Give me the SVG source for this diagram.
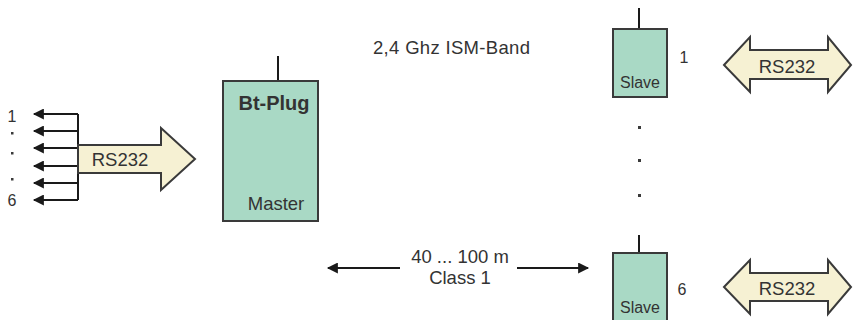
<svg xmlns="http://www.w3.org/2000/svg" width="853" height="320" viewBox="0 0 853 320">
<defs>
<style>
.t{font-family:"Liberation Sans",Arial,sans-serif;fill:#333333}
.box{fill:#a9d9c5;stroke:#3a3a3a;stroke-width:2}
.arr{fill:#f6f1d3;stroke:#3a3a3a;stroke-width:2;stroke-linejoin:miter}
.ln{stroke:#1a1a1a;stroke-width:2;fill:none}
</style>
<marker id="ah" viewBox="0 0 10 10" refX="9" refY="5" markerWidth="6" markerHeight="5.5" orient="auto-start-reverse" markerUnits="strokeWidth">
<path d="M0,0 L10,5 L0,10 z" fill="#1a1a1a"/>
</marker>
</defs>
<rect width="853" height="320" fill="#ffffff"/>

<g id="connectors">
<path class="ln" d="M78,114 V200"/>
<path class="ln" d="M78,114 H34" marker-end="url(#ah)"/>
<path class="ln" d="M78,131 H34" marker-end="url(#ah)"/>
<path class="ln" d="M78,148 H34" marker-end="url(#ah)"/>
<path class="ln" d="M78,166 H34" marker-end="url(#ah)"/>
<path class="ln" d="M78,183 H34" marker-end="url(#ah)"/>
<path class="ln" d="M78,200 H34" marker-end="url(#ah)"/>
<path class="ln" d="M400,268 H328" marker-end="url(#ah)"/>
<path class="ln" d="M517,268 H588" marker-end="url(#ah)"/>
</g>

<g id="ports-left">
<text class="t" x="12" y="122" font-size="16" text-anchor="middle">1</text>
<rect x="11" y="132" width="2.5" height="2.5" fill="#3a3a3a"/>
<rect x="11" y="152" width="2.5" height="2.5" fill="#3a3a3a"/>
<rect x="11" y="178" width="2.5" height="2.5" fill="#3a3a3a"/>
<text class="t" x="12" y="206" font-size="16" text-anchor="middle">6</text>
</g>

<g id="rs232-left">
<path class="arr" d="M78,145 H161 V128 L195,159 L161,190 V173 H78 Z"/>
<text class="t" x="120" y="166" font-size="18.5" text-anchor="middle">RS232</text>
</g>

<g id="master">
<line class="ln" x1="278" y1="56" x2="278" y2="81" stroke="#3a3a3a"/>
<rect class="box" x="223" y="81" width="95" height="140"/>
<text class="t" x="274" y="110" font-size="20" font-weight="bold" text-anchor="middle" fill="#222">Bt-Plug</text>
<text class="t" x="276" y="210" font-size="18.5" text-anchor="middle">Master</text>
</g>

<text class="t" x="373" y="54" font-size="18.5" textLength="157">2,4 Ghz ISM-Band</text>

<g id="slave1">
<line class="ln" x1="639" y1="8" x2="639" y2="29" stroke="#3a3a3a"/>
<rect class="box" x="613" y="29" width="54" height="68"/>
<text class="t" x="640" y="88" font-size="16" text-anchor="middle">Slave</text>
<text class="t" x="684" y="63" font-size="16" text-anchor="middle">1</text>
</g>

<g id="dots">
<rect x="638" y="126" width="3" height="3" fill="#3a3a3a"/>
<rect x="638" y="159" width="3" height="3" fill="#3a3a3a"/>
<rect x="638" y="194" width="3" height="3" fill="#3a3a3a"/>
</g>

<g id="rs232-1">
<path class="arr" d="M724,65 L750,37 V50 H828 V37 L851,65 L828,92 V79 H750 V92 Z"/>
<text class="t" x="787" y="73" font-size="18.5" text-anchor="middle">RS232</text>
</g>

<g id="slave6">
<line class="ln" x1="639" y1="235" x2="639" y2="253" stroke="#3a3a3a"/>
<rect class="box" x="613" y="253" width="54" height="68"/>
<text class="t" x="640" y="313" font-size="16" text-anchor="middle">Slave</text>
<text class="t" x="682" y="295" font-size="16" text-anchor="middle">6</text>
</g>

<g id="rs232-6">
<path class="arr" d="M724,287 L750,260 V273 H828 V260 L851,287 L828,314 V301 H750 V314 Z"/>
<text class="t" x="787" y="295" font-size="18.5" text-anchor="middle">RS232</text>
</g>

<g id="distance">
<text class="t" x="460" y="263" font-size="18.5" text-anchor="middle">40 ... 100 m</text>
<text class="t" x="460" y="284" font-size="18.5" text-anchor="middle">Class 1</text>
</g>
</svg>
